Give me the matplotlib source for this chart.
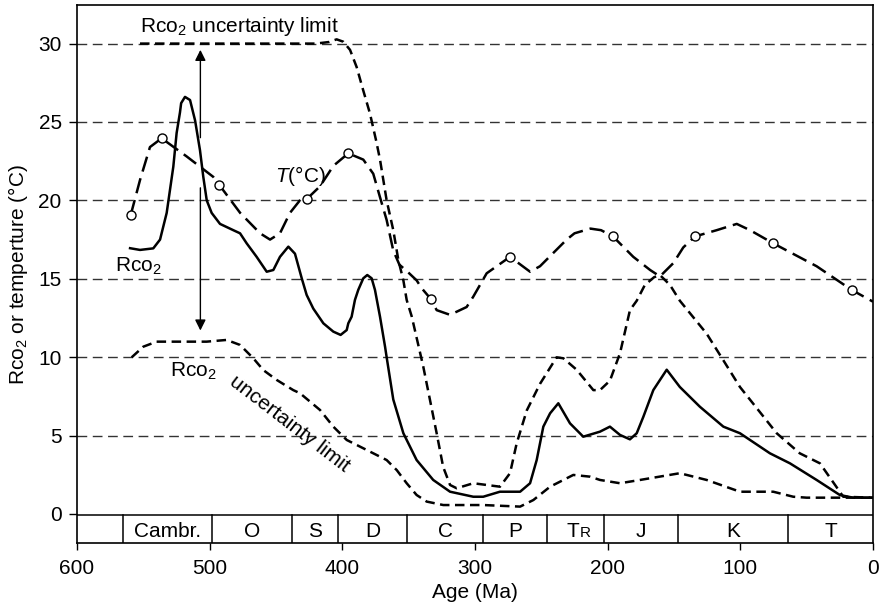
"""
Phanerozoic Rco2 and temperature curves with geologic period strip
"""

import numpy as np
import matplotlib
matplotlib.use('Agg')
import matplotlib.pyplot as plt
from matplotlib import rcParams

rcParams['font.family'] = ['Liberation Sans', 'DejaVu Sans']
rcParams['mathtext.fontset'] = 'custom'
rcParams['mathtext.rm'] = 'Liberation Sans'
rcParams['mathtext.it'] = 'Liberation Sans:italic'
rcParams['font.size'] = 15

# Rco2 (solid)
rco2_age = [560, 552.5, 542.5, 537.4, 532.4, 527.4, 524.9, 522.4, 521.5, 518.6,
            514.8, 511, 507.3, 504.8, 502.2, 498.5, 492.2, 482.2, 477.1, 472.1,
            464.6, 457, 452, 447, 440.7, 435.7, 430.6, 426.9, 421.9, 414.3,
            406.8, 401.3, 396.7, 395.5, 393, 390.5, 388, 384.2, 381.2, 377.9,
            375.4, 371.6, 367.8, 366.6, 361.6, 354, 344, 331.5, 318.8, 301.3,
            293.8, 281.2, 266, 258.5, 253.5, 248.5, 243.4, 237.2, 228.4, 218.4,
            205.8, 198.3, 190.7, 183.2, 178.1, 173.1, 165.6, 155.5, 145.6, 130.5,
            112.8, 100.3, 77.7, 62.6, 42.5, 25, 15, 0]
rco2_val = [16.95, 16.84, 16.94, 17.5, 19.2, 22.15, 24.3, 25.6, 26.2, 26.6,
            26.4, 25.1, 23.2, 21.5, 20.0, 19.2, 18.5, 18.1, 17.9, 17.26,
            16.4, 15.45, 15.56, 16.4, 17.05, 16.6, 15.03, 13.97, 13.1, 12.16,
            11.63, 11.42, 11.73, 12.16, 12.58, 13.65, 14.29, 15.03, 15.24, 15.03,
            14.29, 12.58, 10.67, 10.0, 7.3, 5.15, 3.44, 2.17, 1.42, 1.1,
            1.1, 1.42, 1.42, 1.96, 3.44, 5.57, 6.42, 7.06, 5.78, 4.93,
            5.25, 5.57, 5.04, 4.76, 5.15, 6.2, 7.9, 9.2, 8.1, 6.84,
            5.57, 5.15, 3.87, 3.23, 2.17, 1.21, 1.04, 1.04]

# temperature (long dashes, open circles at data points)
temp_age = [559.5, 552.5, 545, 536.2, 517.3, 497.3, 492.7, 477, 462, 454.5,
            447, 439.5, 432, 427, 416.8, 406.8, 395.5, 384.2, 376.7, 371.6,
            366.6, 361.6, 357, 351.5, 344, 340.2, 333.2, 328.9, 318.8, 306.3,
            301.3, 291.2, 273.6, 258.5, 251, 230.9, 225, 213, 205, 196,
            180.7, 168, 160.6, 150.5, 143, 134.2, 117.8, 102.7, 92.7, 75.2,
            42.5, 16.1, 0]
temp_val = [19.07, 21.3, 23.4, 23.96, 22.8, 21.5, 20.98, 19.2, 17.9, 17.5,
            17.9, 19.2, 20.0, 20.07, 20.9, 22.2, 23.0, 22.6, 21.7, 20.2,
            18.75, 16.8, 15.9, 15.5, 14.9, 14.4, 13.7, 13.0, 12.7, 13.2,
            13.86, 15.35, 16.4, 15.45, 15.8, 17.5, 17.9, 18.2, 18.1, 17.7,
            16.4, 15.56, 15.15, 16.0, 17.0, 17.7, 18.1, 18.5, 18.1, 17.26,
            15.8, 14.29, 13.54]
temp_marks = [0, 3, 6, 13, 16, 26, 32, 39, 45, 49, 51]

# upper Rco2 uncertainty limit
upper_age = [552.5, 420, 410, 404.3, 399.3, 394.2, 389.2, 384.2, 379.2, 374.5,
             371.6, 366.6, 361.6, 357.8, 354, 351.5, 347.7, 339, 334, 328.9,
             324, 318.8, 313.8, 301.3, 291.2, 281.2, 273.6, 268.6, 261, 251,
             238.5, 233.4, 223.4, 210.8, 205.8, 198.3, 190.7, 183.2, 178.1, 172,
             165, 160.6, 153, 145.6, 125.4, 112.8, 100.3, 72.6, 55.2, 40,
             22.4, 0]
upper_val = [30.0, 30.0, 30.1, 30.27, 30.12, 29.6, 28.5, 27.0, 25.55, 23.8,
             22.6, 20.0, 18.1, 16.2, 14.9, 13.65, 12.6, 9.4, 7.3, 5.15,
             3.0, 1.85, 1.64, 1.96, 1.85, 1.74, 2.6, 4.5, 6.6, 8.3,
             9.99, 9.93, 9.2, 7.9, 7.9, 8.5, 10.25, 13.0, 13.6, 14.6,
             15.1, 15.24, 14.6, 13.6, 11.5, 9.8, 8.1, 5.15, 3.87, 3.23,
             1.1, 1.04]

# lower Rco2 uncertainty limit
lower_age = [558.8, 550, 540, 502.3, 487.2, 477.1, 467.1, 459.6, 449.5, 437,
             431.9, 416.8, 406.8, 396.7, 381.6, 366.6, 359, 351.5, 344, 336.4,
             323.9, 293.8, 266, 256, 243.4, 225.9, 213.3, 205.8, 190.7, 175.6,
             145.6, 125.4, 100.3, 75.2, 60.1, 50, 0]
lower_val = [9.99, 10.67, 10.99, 10.99, 11.1, 10.78, 9.93, 9.18, 8.55, 7.9,
             7.7, 6.63, 5.57, 4.72, 4.08, 3.44, 2.8, 1.96, 1.21, 0.79,
             0.57, 0.57, 0.47, 0.89, 1.74, 2.49, 2.38, 2.17, 1.96, 2.17,
             2.6, 2.17, 1.42, 1.42, 1.1, 1.04, 1.04]

# geologic periods (boundaries in Ma)
period_bounds = [600, 565, 498, 438, 403, 351, 294, 246, 203, 147, 64, 0]
period_labels = ["", "Cambr.", "O", "S", "D", "C", "P", "TR", "J", "K", "T"]

y_ticks = [0, 5, 10, 15, 20, 25, 30]
x_ticks = [600, 500, 400, 300, 200, 100, 0]

STRIP_TOP = -0.08
Y_MIN, Y_MAX = -1.87, 32.46

fig = plt.figure(figsize=(8.82, 6.11), dpi=100)
ax = fig.add_axes([0.0873, 0.1108, 0.9025, 0.881])

# horizontal reference lines
ax.hlines(y_ticks[1:], 600, 0, colors="#333333", linewidth=1.0,
          linestyles=(0, (7, 4)), zorder=1)

lw = 1.8
ax.plot(lower_age, lower_val, color="black", linewidth=lw,
        linestyle=(0, (3.8, 2.2)), zorder=3)
ax.plot(upper_age, upper_val, color="black", linewidth=lw,
        linestyle=(0, (3.8, 2.2)), zorder=3)
ax.plot(temp_age, temp_val, color="black", linewidth=lw,
        linestyle=(0, (6.2, 2.8)), marker="o", markevery=temp_marks,
        markersize=6.5, markerfacecolor="white", markeredgecolor="black",
        markeredgewidth=1.0, zorder=4)
ax.plot(rco2_age, rco2_val, color="black", linewidth=lw, zorder=5)

# period strip along the bottom
ax.axhline(STRIP_TOP, color="black", linewidth=1.1, zorder=2)
for b in period_bounds[1:-1]:
    ax.plot([b, b], [Y_MIN, STRIP_TOP], color="black", linewidth=1.1, zorder=2)
for lo, hi, lab in zip(period_bounds[:-1], period_bounds[1:], period_labels):
    xc = (lo + hi) / 2
    if lab == "TR":
        ax.annotate("T", (xc, -1.45), xytext=(3, 0), textcoords="offset points",
                    ha="right", va="baseline", fontsize=15)
        ax.annotate("R", (xc, -1.45), xytext=(3, 0), textcoords="offset points",
                    ha="left", va="baseline", fontsize=11)
    elif lab:
        ax.text(xc, -1.45, lab, ha="center", va="baseline", fontsize=15)

# annotations
ax.text(552.5, 30.76, r"Rco$_2$ uncertainty limit", ha="left", va="baseline")
ax.text(571.4, 15.45, r"Rco$_2$", ha="left", va="baseline")
ax.text(450.8, 21.2, r"$T$(°C)", ha="left", va="baseline")
ax.text(530, 8.76, r"Rco$_2$", ha="left", va="baseline")
ax.text(439.5, 5.74, "uncertainty limit", ha="center", va="center",
        rotation=-37.5, rotation_mode="anchor")

ax.annotate("", xy=(507, 29.6), xytext=(507, 24.0),
            arrowprops=dict(arrowstyle="-|>", color="black", lw=1.0,
                            mutation_scale=16, shrinkA=0, shrinkB=0))
ax.annotate("", xy=(507, 11.7), xytext=(507, 20.8),
            arrowprops=dict(arrowstyle="-|>", color="black", lw=1.0,
                            mutation_scale=16, shrinkA=0, shrinkB=0))

ax.set_xlim(600, 0)
ax.set_ylim(Y_MIN, Y_MAX)
ax.set_xticks(x_ticks)
ax.set_yticks(y_ticks)
ax.tick_params(axis="x", direction="out", length=5, width=1, pad=6, labelsize=15)
ax.tick_params(axis="y", direction="out", length=6, width=1, pad=5, labelsize=15)
for s in ax.spines.values():
    s.set_linewidth(1.2)

ax.set_xlabel("Age (Ma)", fontsize=15, labelpad=4)
ax.set_ylabel(r"Rco$_2$ or temperture (°C)", fontsize=15, labelpad=6)

fig.savefig("out.png", dpi=100)
plt.close()
